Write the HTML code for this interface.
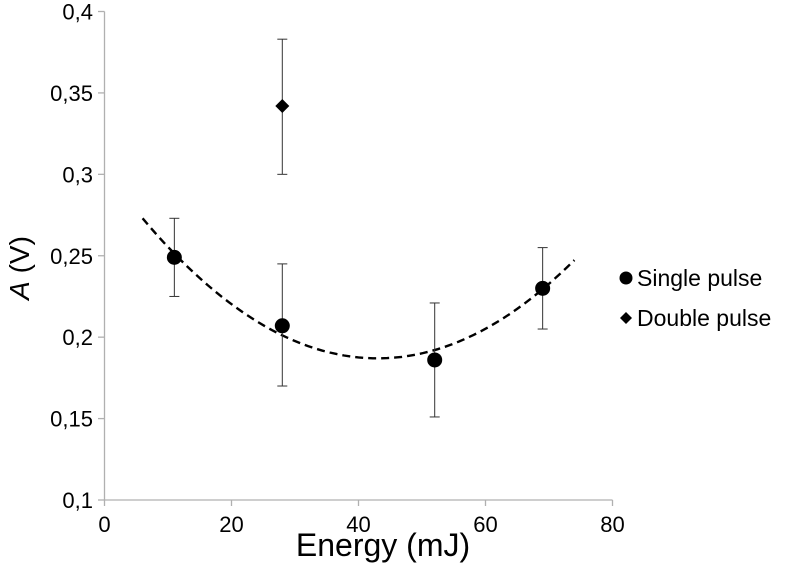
<!DOCTYPE html>
<html><head><meta charset="utf-8"><style>
html,body{margin:0;padding:0;background:#fff;}
svg text{font-family:"Liberation Sans",Arial,sans-serif;fill:#000;}
</style></head><body>
<svg width="788" height="581" viewBox="0 0 788 581">
<g id="axes"></g><g id="marks"></g>
<g>
 <g><circle cx="626" cy="278" r="6.5" fill="#000"/><text x="637" y="286" font-size="23">Single pulse</text></g>
 <g><path d="M626 312 L632 318 L626 324 L620 318 Z" fill="#000"/><text x="637" y="326" font-size="23">Double pulse</text></g>
</g>
<text x="383" y="556" font-size="32" text-anchor="middle">Energy (mJ)</text>
<text transform="translate(29,268) rotate(-90)" font-size="28" text-anchor="middle"><tspan font-style="italic">A</tspan> (V)</text>
</svg>
<script>
const xTicks=[0,20,40,60,80];
const yTicks=[0.1,0.15,0.2,0.25,0.3,0.35,0.4];
const yTickLabels=["0,1","0,15","0,2","0,25","0,3","0,35","0,4"];
const singleX=[11,28,52,69];
const singleY=[0.249,0.207,0.186,0.230];
const singleLo=[0.225,0.170,0.151,0.205];
const singleHi=[0.273,0.245,0.221,0.255];
const doubleX=[28];
const doubleY=[0.342];
const doubleLo=[0.300];
const doubleHi=[0.383];
const fitCoef=[6.28e-5,43,0.187]; // a*(x-h)^2+k
const fitRange=[6,74];
const X=v=>104.5+v*(612.5-104.5)/80;
const Y=v=>500-(v-0.1)*(500-11.5)/0.3;
const NS="http://www.w3.org/2000/svg";
function mk(t,a,p){const e=document.createElementNS(NS,t);for(const k in a)e.setAttribute(k,a[k]);p.appendChild(e);return e;}
const ax=document.getElementById('axes'),mg=document.getElementById('marks');
let l=mk('line',{x1:X(0),y1:Y(0.1),x2:X(80),y2:Y(0.1),stroke:'#b0b0b0','stroke-width':1.3},ax);


l=mk('line',{x1:X(0),y1:Y(0.1),x2:X(0),y2:Y(0.4),stroke:'#b0b0b0','stroke-width':1.3},ax);


xTicks.forEach(v=>{
 const t=mk('line',{x1:X(v),y1:500,x2:X(v),y2:506,stroke:'#b0b0b0','stroke-width':1.3},ax);
 
 
 const tx=mk('text',{x:X(v),y:532,'font-size':22,'text-anchor':'middle'},ax);tx.textContent=v;
 
 
});
yTicks.forEach((v,i)=>{
 const t=mk('line',{x1:98,y1:Y(v),x2:X(0),y2:Y(v),stroke:'#b0b0b0','stroke-width':1.3},ax);
 
 
 const tx=mk('text',{x:93,y:Y(v)+8,'font-size':22,'text-anchor':'end'},ax);tx.textContent=yTickLabels[i];
 
 
});
let d='';for(let i=0;i<=60;i++){const x=fitRange[0]+(fitRange[1]-fitRange[0])*i/60;const y=fitCoef[0]*(x-fitCoef[1])**2+fitCoef[2];d+=(i?'L':'M')+X(x).toFixed(1)+' '+Y(y).toFixed(1);}
const fp=mk('path',{d:d,fill:'none',stroke:'#000','stroke-width':2.4,'stroke-dasharray':'8,5'},mg);


function err(x,lo,hi){
 const g=mk('g',{stroke:'#333','stroke-width':1},mg);
 
 
 mk('line',{x1:X(x),y1:Y(lo),x2:X(x),y2:Y(hi)},g);
 mk('line',{x1:X(x)-5,y1:Y(lo),x2:X(x)+5,y2:Y(lo)},g);
 mk('line',{x1:X(x)-5,y1:Y(hi),x2:X(x)+5,y2:Y(hi)},g);
}
singleX.forEach((x,i)=>{
 err(x,singleLo[i],singleHi[i]);
 const c=mk('circle',{cx:X(x),cy:Y(singleY[i]),r:7.5,fill:'#000'},mg);
 
 
});
doubleX.forEach((x,i)=>{
 err(x,doubleLo[i],doubleHi[i]);
 const cx=X(x),cy=Y(doubleY[i]);
 const p=mk('path',{d:`M${cx} ${cy-7} L${cx+7} ${cy} L${cx} ${cy+7} L${cx-7} ${cy} Z`,fill:'#000'},mg);
 
 
});
</script>
</body></html>
